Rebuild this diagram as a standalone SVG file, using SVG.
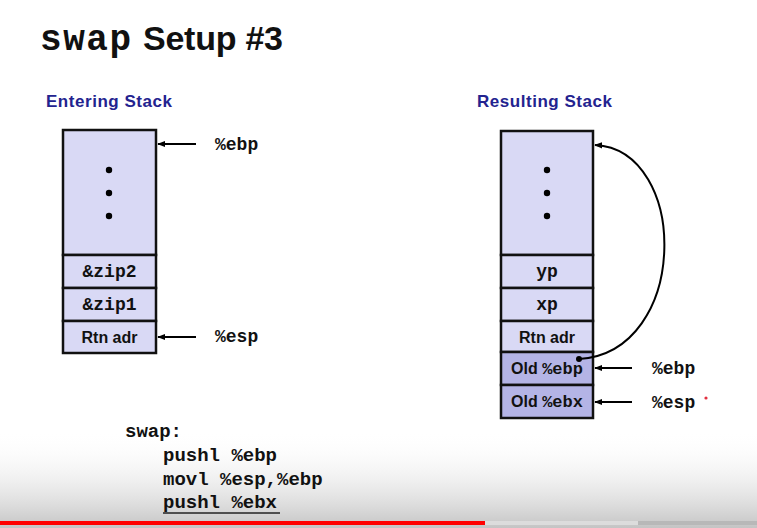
<svg xmlns="http://www.w3.org/2000/svg" width="757" height="528" viewBox="0 0 757 528">
<defs>
<linearGradient id="fade" x1="0" y1="0" x2="0" y2="1">
<stop offset="0" stop-color="#ffffff" stop-opacity="0"/>
<stop offset="1" stop-color="#c4c4c4"/>
</linearGradient>
<marker id="ah" viewBox="0 0 10 10" refX="9" refY="5" markerWidth="8" markerHeight="8" markerUnits="userSpaceOnUse" orient="auto">
<path d="M0,1 L10,5 L0,9 z" fill="#000"/>
</marker>
</defs>
<style>
.cell{fill:#d9d9f5;stroke:#111;stroke-width:2.5}
.dark{fill:#b4b4e6;stroke:#111;stroke-width:2.5}
.mono{font-family:"Liberation Mono","Courier New",monospace;fill:#111}
.sans{font-family:"Liberation Sans",Arial,sans-serif;fill:#111}
.head{font-family:"Liberation Sans",Arial,sans-serif;font-weight:bold;fill:#23238f;font-size:17px}
.lbl{font-family:"Liberation Mono","Courier New",monospace;font-size:18px;fill:#111;font-weight:bold}
.cl{font-family:"Liberation Sans",Arial,sans-serif;font-size:16px;fill:#111;text-anchor:middle;font-weight:bold}
.cm{font-family:"Liberation Mono","Courier New",monospace;font-size:18px;fill:#111;text-anchor:middle;font-weight:bold}
.arr{stroke:#000;stroke-width:2;fill:none;marker-end:url(#ah)}
.dot{fill:#000}
.code{font-family:"Liberation Mono","Courier New",monospace;font-size:19px;fill:#111;font-weight:bold}
</style>
<rect width="757" height="528" fill="#fff"/>
<rect x="0" y="430" width="757" height="98" fill="url(#fade)"/>

<text x="40" y="50" class="mono" font-size="36" font-weight="bold" textLength="91">swap</text>
<text x="143" y="50" class="sans" font-size="34" font-weight="bold" textLength="140">Setup #3</text>

<text x="46" y="107" class="head" textLength="126">Entering Stack</text>
<text x="477" y="107" class="head" textLength="135">Resulting Stack</text>

<g id="left-stack">
<rect class="cell" x="63" y="130" width="93" height="125"/>
<circle class="dot" cx="109" cy="170" r="3.2"/>
<circle class="dot" cx="109" cy="193" r="3.2"/>
<circle class="dot" cx="109" cy="216" r="3.2"/>
</g>
<g id="left-zip2">
<rect class="cell" x="63" y="255" width="93" height="33"/>
<text class="cm" x="109.5" y="277">&amp;zip2</text>
</g>
<g id="left-zip1">
<rect class="cell" x="63" y="288" width="93" height="33"/>
<text class="cm" x="109.5" y="310">&amp;zip1</text>
</g>
<g id="left-rtn">
<rect class="cell" x="63" y="321" width="93" height="32"/>
<text class="cl" x="109.5" y="343">Rtn adr</text>
</g>

<g id="right-stack">
<rect class="cell" x="501" y="131" width="92" height="124"/>
<circle class="dot" cx="547" cy="170" r="3.2"/>
<circle class="dot" cx="547" cy="193" r="3.2"/>
<circle class="dot" cx="547" cy="216" r="3.2"/>
</g>
<g id="right-yp">
<rect class="cell" x="501" y="255" width="92" height="33"/>
<text class="cm" x="547" y="277">yp</text>
</g>
<g id="right-xp">
<rect class="cell" x="501" y="288" width="92" height="33"/>
<text class="cm" x="547" y="310">xp</text>
</g>
<g id="right-rtn">
<rect class="cell" x="501" y="321" width="92" height="31"/>
<text class="cl" x="547" y="343">Rtn adr</text>
</g>
<g id="right-oldebp">
<rect class="dark" x="501" y="352" width="92" height="33"/>
<text x="547" y="374" text-anchor="middle" font-weight="bold"><tspan class="sans" font-size="16">Old </tspan><tspan class="mono" font-size="17">%ebp</tspan></text>
</g>
<g id="right-oldebx">
<rect class="dark" x="501" y="385" width="92" height="33"/>
<text x="547" y="407" text-anchor="middle" font-weight="bold"><tspan class="sans" font-size="16">Old </tspan><tspan class="mono" font-size="17">%ebx</tspan></text>
</g>

<g id="labels">
<text class="lbl" x="215" y="150">%ebp</text>
<text class="lbl" x="215" y="342">%esp</text>
<text class="lbl" x="652" y="374">%ebp</text>
<text class="lbl" x="652" y="408">%esp</text>
</g>

<g id="connectors">
<line class="arr" x1="196" y1="144" x2="158" y2="144"/>
<line class="arr" x1="196" y1="337" x2="158" y2="337"/>
<line class="arr" x1="632" y1="368" x2="595" y2="368"/>
<line class="arr" x1="632" y1="402" x2="595" y2="402"/>
<circle class="dot" cx="579" cy="359" r="3"/>
<path class="arr" d="M579,359 C690,352 690,150 595,145"/>
</g>

<circle cx="706" cy="398" r="1.6" fill="#e23040"/>

<g id="code">
<text class="code" x="125" y="437">swap:</text>
<text class="code" x="163" y="461">pushl %ebp</text>
<text class="code" x="163" y="485">movl %esp,%ebp</text>
<text class="code" x="163" y="508">pushl %ebx</text>
<line x1="163" y1="513" x2="280" y2="513" stroke="#222" stroke-width="1.5"/>
</g>

<rect x="0" y="521" width="757" height="4" fill="#b8b8b8"/>
<rect x="485" y="521" width="153" height="4" fill="#dcdcdc"/>
<rect x="0" y="521" width="485" height="4" fill="#f00"/>
</svg>
